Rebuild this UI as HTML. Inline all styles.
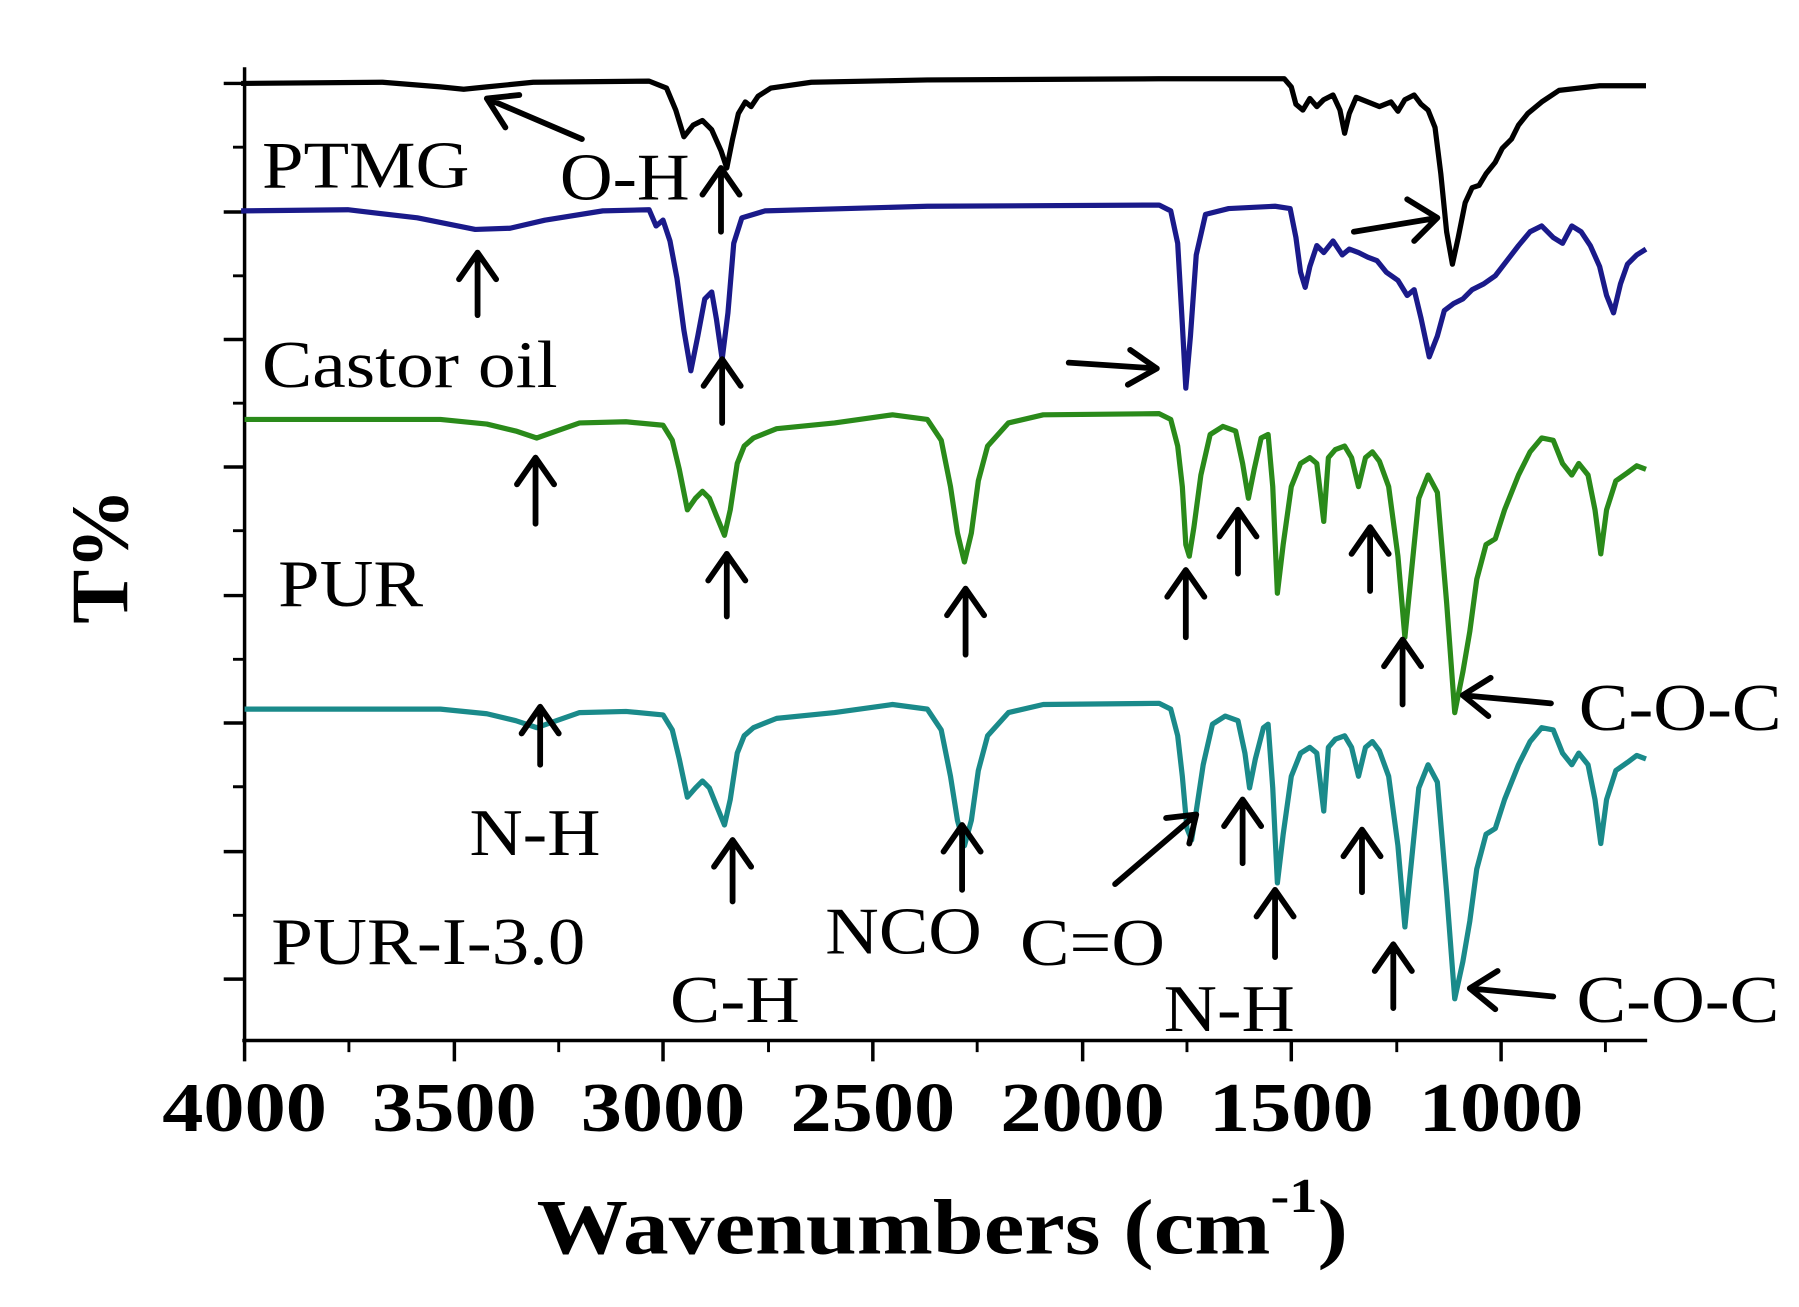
<!DOCTYPE html>
<html><head><meta charset="utf-8"><style>
html,body{margin:0;padding:0;background:#fff;}
svg{display:block;}
text{font-family:"Liberation Serif",serif;}
</style></head><body>
<svg width="1799" height="1307" viewBox="0 0 1552 1128" preserveAspectRatio="none" xmlns="http://www.w3.org/2000/svg">
<rect width="1552" height="1128" fill="#fff"/>
<g stroke="#000" stroke-width="3" fill="none">
<line x1="211" y1="58" x2="211" y2="899"/>
<line x1="209" y1="898" x2="1421" y2="898"/>
<path d="M193 72H211M193 183H211M193 293H211M193 403H211M193 514H211M193 624H211M193 735H211M193 845H211"/>
<path d="M201 127H211M201 238H211M201 348H211M201 458H211M201 569H211M201 679H211M201 790H211" stroke-width="2.5"/>
<path d="M211 898V916M392 898V916M572 898V916M753 898V916M934 898V916M1114 898V916M1295 898V916" />
<path d="M301 898V908M482 898V908M663 898V908M843 898V908M1024 898V908M1205 898V908M1385 898V908" stroke-width="2.5"/>
</g>
<g font-size="60" font-weight="bold">
<text x="140" y="976" textLength="142" lengthAdjust="spacingAndGlyphs">4000</text>
<text x="321" y="976" textLength="142" lengthAdjust="spacingAndGlyphs">3500</text>
<text x="501" y="976" textLength="142" lengthAdjust="spacingAndGlyphs">3000</text>
<text x="682" y="976" textLength="142" lengthAdjust="spacingAndGlyphs">2500</text>
<text x="863" y="976" textLength="142" lengthAdjust="spacingAndGlyphs">2000</text>
<text x="1043" y="976" textLength="142" lengthAdjust="spacingAndGlyphs">1500</text>
<text x="1224" y="976" textLength="142" lengthAdjust="spacingAndGlyphs">1000</text>
</g>
<g transform="translate(463,1082) scale(1.16,1)">
<text x="0" y="0" font-size="68" font-weight="bold">Wavenumbers (cm<tspan dy="-36" font-size="42">-1</tspan><tspan dy="36">)</tspan></text>
</g>
<text transform="translate(110,480) rotate(-90)" font-size="70" font-weight="bold" text-anchor="middle">T%</text>

<g fill="none" stroke-width="4.5" stroke-linejoin="round">
<polyline stroke="#000" points="208,72 330,71 380,75 400,77 420,75 460,71 560,70 575,76 583,95 590,118 598,108 606,104 614,112 622,130 627,145 632,120 637,98 643,88 648,92 654,83 665,76 700,71 800,69 1000,68 1108,68 1114,75 1118,90 1124,95 1130,85 1136,92 1142,86 1150,82 1156,95 1160,115 1164,98 1170,84 1180,88 1190,92 1200,88 1206,96 1212,86 1220,82 1226,90 1232,95 1238,110 1243,150 1248,200 1253,228 1258,205 1264,175 1270,162 1276,160 1282,150 1290,140 1296,128 1304,120 1310,108 1318,98 1330,88 1345,78 1380,74 1420,74"/>
<polyline stroke="#1a1a8a" points="208,182 300,181 360,188 410,198 440,197 470,190 520,182 560,181 566,195 572,190 578,208 584,240 590,285 596,320 602,290 608,258 614,252 618,275 623,310 628,270 633,210 640,188 660,182 800,178 1000,177 1010,182 1016,210 1020,280 1023,335 1027,290 1032,220 1040,185 1060,180 1100,178 1113,180 1118,205 1122,235 1126,248 1130,230 1136,212 1142,218 1150,208 1158,220 1164,215 1172,218 1180,222 1188,225 1196,235 1206,242 1214,255 1220,250 1226,275 1233,308 1240,290 1246,268 1254,262 1262,258 1270,250 1280,245 1290,238 1300,225 1310,212 1320,200 1330,195 1340,205 1348,210 1356,195 1364,200 1372,212 1380,230 1386,255 1392,270 1398,245 1404,228 1412,220 1420,215"/>
<polyline stroke="#2a8a1a" points="211,362 380,362 420,366 445,372 463,378 480,372 500,365 540,364 572,367 580,380 586,405 593,440 600,430 606,424 612,430 618,445 625,462 630,440 636,400 642,385 650,378 670,370 720,365 770,358 800,362 812,380 820,420 826,460 832,485 838,460 844,415 852,385 870,365 900,358 1000,357 1010,362 1016,385 1020,420 1023,470 1026,480 1030,455 1036,410 1044,375 1055,368 1066,372 1072,400 1077,430 1082,405 1088,378 1094,375 1098,420 1102,512 1107,470 1114,420 1122,400 1130,395 1136,400 1142,450 1146,395 1152,388 1160,385 1166,395 1172,420 1178,395 1184,390 1190,398 1198,420 1206,480 1212,550 1218,490 1224,430 1232,410 1240,425 1248,520 1255,615 1262,580 1268,545 1274,500 1282,470 1290,465 1298,440 1310,410 1320,390 1330,378 1340,380 1348,400 1356,410 1362,400 1370,410 1376,440 1381,478 1386,440 1394,415 1404,408 1412,402 1420,405"/>
<polyline stroke="#1a8a8a" points="211,612 380,612 420,616 445,622 463,628 480,622 500,615 540,614 572,617 580,630 586,655 593,688 600,680 606,674 612,680 618,695 625,712 630,690 636,650 642,635 650,628 670,620 720,615 770,608 800,612 812,630 820,670 826,708 832,730 838,708 844,665 852,635 870,615 900,608 1000,607 1010,612 1016,635 1020,670 1024,715 1028,725 1032,700 1038,660 1046,625 1057,618 1068,622 1074,650 1078,680 1083,655 1090,628 1094,625 1098,680 1102,762 1107,720 1114,670 1122,650 1130,645 1136,650 1142,700 1146,645 1152,638 1160,635 1166,645 1172,670 1178,645 1184,640 1190,648 1198,670 1206,730 1212,800 1218,740 1224,680 1232,660 1240,675 1248,770 1255,862 1262,830 1268,795 1274,750 1282,720 1290,715 1298,690 1310,660 1320,640 1330,628 1340,630 1348,650 1356,660 1362,650 1370,660 1376,690 1381,728 1386,690 1394,665 1404,658 1412,652 1420,655"/>
</g>

<g stroke="#000" stroke-width="5" fill="none" stroke-linecap="round" stroke-linejoin="round">
<path d="
M502,120 L420,85 M448,82 L420,85 L436,110
M622,200 V145 M606,168 L622,145 L638,168
M1168,200 L1240,188 M1214,172 L1240,188 L1220,208
M412,272 V218 M396,241 L412,218 L428,241
M623,365 V310 M607,333 L623,310 L639,333
M922,313 L998,318 M975,302 L998,318 L973,332
M462,452 V395 M446,418 L462,395 L478,418
M627,532 V478 M611,501 L627,478 L643,501
M833,565 V508 M817,531 L833,508 L849,531
M1023,550 V492 M1007,515 L1023,492 L1039,515
M1068,495 V440 M1052,463 L1068,440 L1084,463
M1182,510 V455 M1166,478 L1182,455 L1198,478
M1210,608 V552 M1194,575 L1210,552 L1226,575
M1338,607 L1262,600 M1286,585 L1262,600 L1284,618
M466,660 V610 M450,633 L466,610 L482,633
M632,778 V725 M616,748 L632,725 L648,748
M830,768 V712 M814,735 L830,712 L846,735
M962,763 L1032,703 M1006,706 L1032,703 L1026,728
M1072,745 V690 M1056,713 L1072,690 L1088,713
M1100,826 V768 M1084,791 L1100,768 L1116,791
M1175,770 V716 M1159,739 L1175,716 L1191,739
M1202,870 V815 M1186,838 L1202,815 L1218,838
M1340,860 L1268,853 M1292,838 L1268,853 L1290,871
"/>
</g>

<g font-size="58">
<text x="226" y="162" textLength="179" lengthAdjust="spacingAndGlyphs">PTMG</text>
<text x="483" y="172" textLength="112" lengthAdjust="spacingAndGlyphs">O-H</text>
<text x="226" y="334" textLength="255" lengthAdjust="spacingAndGlyphs">Castor oil</text>
<text x="240" y="523" textLength="125" lengthAdjust="spacingAndGlyphs">PUR</text>
<text x="1362" y="630" textLength="175" lengthAdjust="spacingAndGlyphs">C-O-C</text>
<text x="405" y="738" textLength="113" lengthAdjust="spacingAndGlyphs">N-H</text>
<text x="234" y="832" textLength="271" lengthAdjust="spacingAndGlyphs">PUR-I-3.0</text>
<text x="712" y="823" textLength="135" lengthAdjust="spacingAndGlyphs">NCO</text>
<text x="880" y="833" textLength="125" lengthAdjust="spacingAndGlyphs">C=O</text>
<text x="578" y="882" textLength="112" lengthAdjust="spacingAndGlyphs">C-H</text>
<text x="1004" y="890" textLength="113" lengthAdjust="spacingAndGlyphs">N-H</text>
<text x="1360" y="882" textLength="175" lengthAdjust="spacingAndGlyphs">C-O-C</text>
</g>
</svg>
</body></html>
